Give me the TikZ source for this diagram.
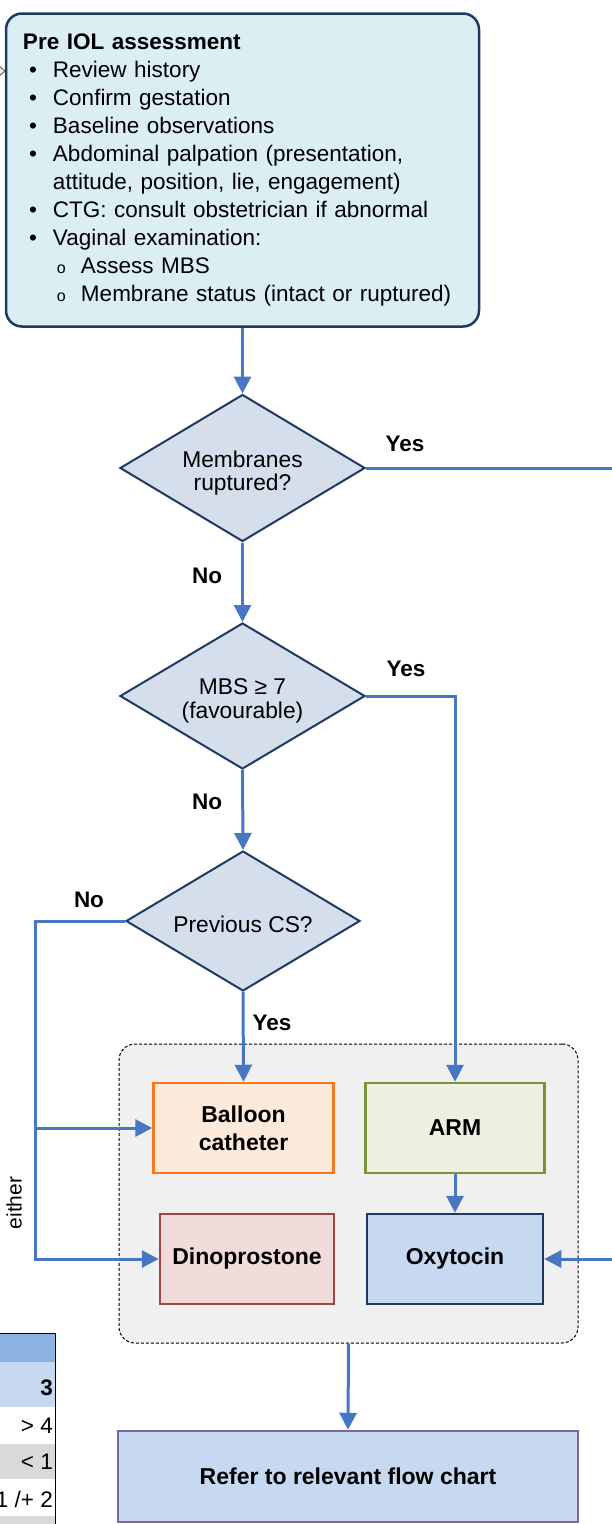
\documentclass[tikz,border=0pt]{standalone}
\usepackage{fontspec}
\setmainfont{Liberation Sans}
\usetikzlibrary{shapes.geometric,arrows.meta}
\definecolor{flowblue}{HTML}{4677C4}
\definecolor{navy}{HTML}{1F3A60}
\definecolor{paleblue}{HTML}{DBEEF4}
\definecolor{diafill}{HTML}{D5DFEC}
\definecolor{groupgray}{HTML}{F0F0F0}
\definecolor{peach}{HTML}{FDEADA}
\definecolor{orangeline}{HTML}{F47A20}
\definecolor{palegreen}{HTML}{EBF1DE}
\definecolor{greenline}{HTML}{77933C}
\definecolor{palerose}{HTML}{F2DCDB}
\definecolor{roseline}{HTML}{A0443F}
\definecolor{lightblue}{HTML}{C6D9F1}
\definecolor{purpleline}{HTML}{8064A2}
\definecolor{tblhead}{HTML}{8DB3E2}
\definecolor{tblgray}{HTML}{D9D9D9}
\definecolor{stubfill}{HTML}{EEECE1}
% list markers for the assessment box
\newcommand{\bulit}{\hspace*{6pt}\makebox[24pt][l]{\textbullet}}
\newcommand{\subbul}{\hspace*{34pt}\makebox[24pt][l]{\fontsize{16}{16}\selectfont o}}
% pushes diamond text a little down
\newcommand{\dstrut}[1]{\rule{0pt}{#1pt}}
\begin{document}
\begin{tikzpicture}[x=1pt,y=-1pt,
    flow/.style={line width=3pt, flowblue, -{Triangle[width=17pt,length=17pt]}},
    plain/.style={line width=3pt, flowblue},
    decision/.style={diamond, draw=navy, line width=2pt, fill=diafill, inner sep=0pt,
        shape aspect=1.67, align=center, font=\fontsize{22.8}{23.4}\selectfont},
    stepbox/.style={rectangle, line width=2.5pt, inner sep=0pt, minimum width=180pt,
        minimum height=90pt, align=center, font=\fontsize{23}{27.7}\selectfont\bfseries},
    answer/.style={font=\fontsize{22.5}{27}\selectfont\bfseries, inner sep=0pt},
    cell/.style={anchor=east, inner sep=0pt, font=\fontsize{22.5}{27}\selectfont}]
    \useasboundingbox (0,0) rectangle (612,1524);
    \clip (0,0) rectangle (612,1524);
    % table fragment, bottom left
    \fill[tblhead] (-30,1333) rectangle (55,1362);
    \fill[lightblue] (-30,1362) rectangle (55,1407);
    \fill[tblgray] (-30,1444) rectangle (55,1479);
    \fill[tblgray] (-30,1516) rectangle (55,1530);
    \draw[line width=1pt] (-30,1333) -- (55,1333) -- (55,1530);
    \node[cell] (tthree) at (53,1388) {\textbf{3}};
    \node[cell] (tfour) at (53,1426) {> 4};
    \node[cell] (tone) at (53,1462) {< 1};
    \node[cell] (ttwo) at (53,1499) {1 /+ 2};
    % connector stub, top left
    \draw[fill=stubfill, draw=gray!60!black, line width=0.8pt] (-2,65) -- (5,71) -- (-2,77) -- cycle;
    % assessment
    \node[rectangle, rounded corners=16pt, draw=navy, line width=2.5pt, fill=paleblue,
        text width=439pt, inner xsep=17pt, inner ysep=0pt, minimum height=313pt, align=left,
        font=\fontsize{22.5}{28.1}\selectfont] (assess) at (242.5,170) {%
        \textbf{Pre IOL assessment}\\
        \bulit Review history\\
        \bulit Confirm gestation\\
        \bulit Baseline observations\\
        \bulit Abdominal palpation (presentation,\\
        \hspace*{30pt}attitude, position, lie, engagement)\\
        \bulit CTG: consult obstetrician if abnormal\\
        \bulit Vaginal examination:\\
        \subbul Assess MBS\\
        \subbul Membrane status (intact or ruptured)};
    % decisions
    \node[decision, minimum width=245pt, minimum height=147pt] (ruptured) at (242.5,468) {\dstrut{27}Membranes\\ruptured?};
    \node[decision, minimum width=245pt, minimum height=146pt] (mbs) at (242.5,696) {\dstrut{26}MBS ≥ 7\\(favourable)};
    \node[decision, minimum width=234pt, minimum height=140pt] (prevcs) at (243,921) {\dstrut{23}Previous CS?};
    % methods
    \node[draw, dash pattern=on 3pt off 2pt, line width=1pt, rounded corners=16pt, fill=groupgray,
        minimum width=459pt, minimum height=299pt] (methods) at (348.5,1193.5) {};
    \node[stepbox, draw=orangeline, fill=peach] (balloon) at (243.5,1128) {Balloon\\catheter};
    \node[stepbox, draw=greenline, fill=palegreen, minimum width=179pt] (arm) at (455,1128) {ARM};
    \node[stepbox, draw=roseline, fill=palerose, minimum width=174pt] (dino) at (247,1259) {Dinoprostone};
    \node[stepbox, draw=navy, fill=lightblue, minimum width=176pt] (oxy) at (455,1259) {Oxytocin};
    \node[stepbox, draw=purpleline, fill=lightblue, minimum width=460pt, minimum height=91pt] (refer) at (348,1476.5) {Refer to relevant flow chart};
    % free ends
    \coordinate (offyes) at (612,468);
    \coordinate (offoxy) at (612,1259);
    \coordinate (nobus) at (35,1128);
    % connectors
    \draw[flow] (assess.south) -- (ruptured.north);
    \draw[plain] (ruptured.east) -- (offyes);
    \draw[flow] (ruptured.south) -- (mbs.north);
    \draw[flow] (mbs.east) -| (arm.north);
    \draw[flow] (mbs.south) -- (prevcs.north);
    \draw[flow] (prevcs.south) -- (balloon.north);
    \draw[flow] (prevcs.west) -| (nobus) |- (dino.west);
    \draw[flow] (nobus) -- (balloon.west);
    \draw[flow] (arm.south) -- (oxy.north);
    \draw[flow] (offoxy) -- (oxy.east);
    \draw[flow] (methods.south) -- (refer.north);
    % labels
    \node[answer] (yesrup) at (405,444) {Yes};
    \node[answer] (norup) at (207,576) {No};
    \node[answer] (yesmbs) at (406,669) {Yes};
    \node[answer] (nombs) at (207,802) {No};
    \node[answer] (nocs) at (89,900) {No};
    \node[answer] (yescs) at (272,1023) {Yes};
    \node[rotate=90, inner sep=0pt, font=\fontsize{21}{25}\selectfont] (either) at (14,1203) {either};
\end{tikzpicture}
\end{document}
